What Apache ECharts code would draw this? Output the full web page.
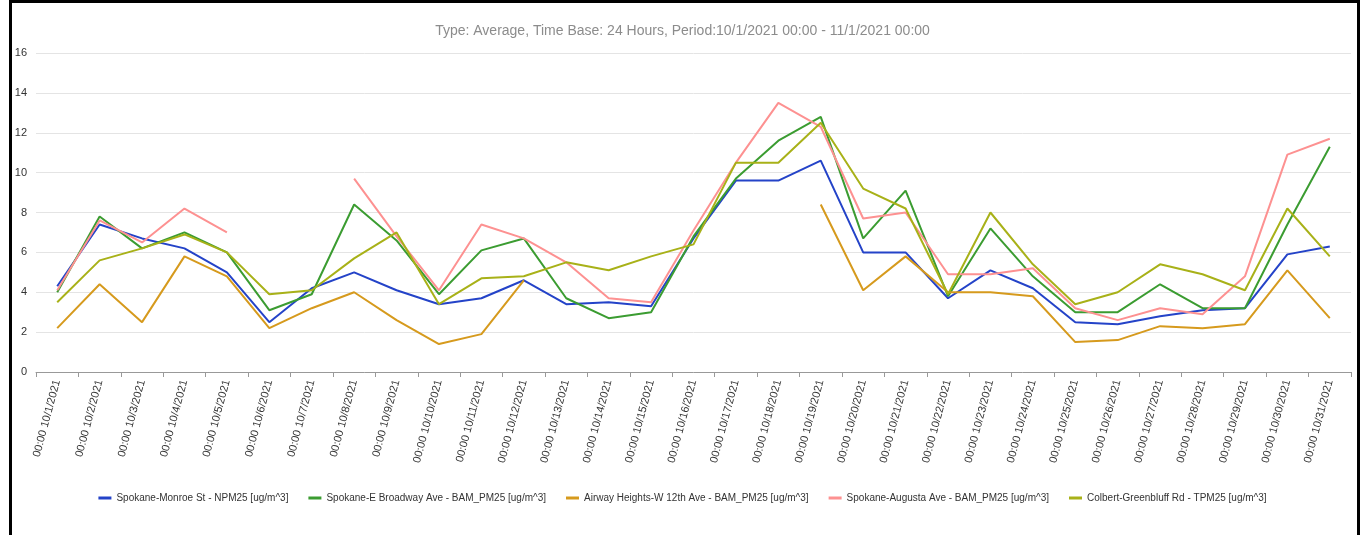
<!DOCTYPE html>
<html>
<head>
<meta charset="utf-8">
<script src="https://cdn.jsdelivr.net/npm/echarts@6/dist/echarts.min.js"></script>
<style>
  html, body { margin: 0; padding: 0; background: #fff; }
  #chart { position: absolute; left: 0; top: 0; width: 1365px; height: 535px; }
  #frame { position: absolute; left: 9px; top: 0px; width: 1345px; height: 600px;
           border: 3px solid #000; pointer-events: none; }
</style>
</head>
<body>
<div id="chart"></div>
<div id="frame"></div>
<script>
// x categories, one per day
var days = [];
for (var d = 1; d <= 31; d++) days.push('00:00 10/' + d + '/2021');

// daily averages (null = no data)
var monroe = [4.3, 7.4, 6.7, 6.2, 5.0, 2.5, 4.2, 5.0, 4.1, 3.4, 3.7, 4.6, 3.4, 3.5, 3.3, 6.7,
  9.6, 9.6, 10.6, 6.0, 6.0, 3.7, 5.1, 4.2, 2.5, 2.4, 2.8, 3.1, 3.2, 5.9, 6.3];
var broadway = [4.0, 7.8, 6.2, 7.0, 6.0, 3.1, 3.9, 8.4, 6.6, 3.9, 6.1, 6.7, 3.7, 2.7, 3.0, 6.8,
  9.7, 11.6, 12.8, 6.7, 9.1, 3.8, 7.2, 4.8, 3.0, 3.0, 4.4, 3.2, 3.2, 7.4, 11.3];
var airway = [2.2, 4.4, 2.5, 5.8, 4.8, 2.2, 3.2, 4.0, 2.6, 1.4, 1.9, 4.6, null, null, null, null,
  null, null, 8.4, 4.1, 5.8, 4.0, 4.0, 3.8, 1.5, 1.6, 2.3, 2.2, 2.4, 5.1, 2.7];
var augusta = [4.1, 7.6, 6.5, 8.2, 7.0, null, null, 9.7, 6.8, 4.1, 7.4, 6.7, 5.5, 3.7, 3.5, 7.1,
  10.5, 13.5, 12.3, 7.7, 8.0, 4.9, 4.9, 5.2, 3.2, 2.6, 3.2, 2.9, 4.8, 10.9, 11.7];
var colbert = [3.5, 5.6, 6.2, 6.9, 6.0, 3.9, 4.1, 5.7, 7.0, 3.4, 4.7, 4.8, 5.5, 5.1, 5.8, 6.4,
  10.5, 10.5, 12.5, 9.2, 8.2, 3.9, 8.0, 5.4, 3.4, 4.0, 5.4, 4.9, 4.1, 8.2, 5.8];

var names = [
  'Spokane-Monroe St - NPM25 [ug/m^3]',
  'Spokane-E Broadway Ave - BAM_PM25 [ug/m^3]',
  'Airway Heights-W 12th Ave - BAM_PM25 [ug/m^3]',
  'Spokane-Augusta Ave - BAM_PM25 [ug/m^3]',
  'Colbert-Greenbluff Rd - TPM25 [ug/m^3]'
];
var values = [monroe, broadway, airway, augusta, colbert];
var colors = ['#2443c8', '#3b9c31', '#d69a1d', '#fd9191', '#a8b118'];

var chart = echarts.init(document.getElementById('chart'));

var series = [];
for (var i = 0; i < names.length; i++) {
  series.push({
    name: names[i],
    type: 'line',
    data: values[i],
    symbol: 'none',
    connectNulls: false,
    lineStyle: { width: 2 }
  });
}

var option = {
  animation: false,
  color: colors,
  textStyle: { fontFamily: 'Liberation Sans, Arial, sans-serif' },
  title: {
    text: 'Type: Average, Time Base: 24 Hours, Period:10/1/2021 00:00 - 11/1/2021 00:00',
    left: 'center',
    top: 19,
    textStyle: { fontSize: 14, fontWeight: 'normal', color: '#8c8c8c' }
  },
  legend: {
    data: names,
    bottom: 27,
    left: 'center',
    icon: 'rect',
    itemWidth: 13,
    itemHeight: 3,
    itemGap: 20,
    textStyle: { fontSize: 10, color: '#333' }
  },
  grid: { left: 36, right: 14, top: 53, bottom: 163 },
  xAxis: {
    type: 'category',
    data: days,
    boundaryGap: true,
    axisLine: { lineStyle: { color: '#999' } },
    axisTick: { show: true, length: 5, lineStyle: { color: '#999' } },
    axisLabel: { rotate: 75, fontSize: 11, color: '#333', margin: 8, interval: 0 }
  },
  yAxis: {
    type: 'value',
    min: 0,
    max: 16,
    interval: 2,
    axisLine: { show: false },
    axisTick: { show: false },
    axisLabel: { fontSize: 11, color: '#333', margin: 9 },
    splitLine: { lineStyle: { color: '#e4e4e4' } }
  },
  series: series
};

chart.setOption(option);
</script>
</body>
</html>
